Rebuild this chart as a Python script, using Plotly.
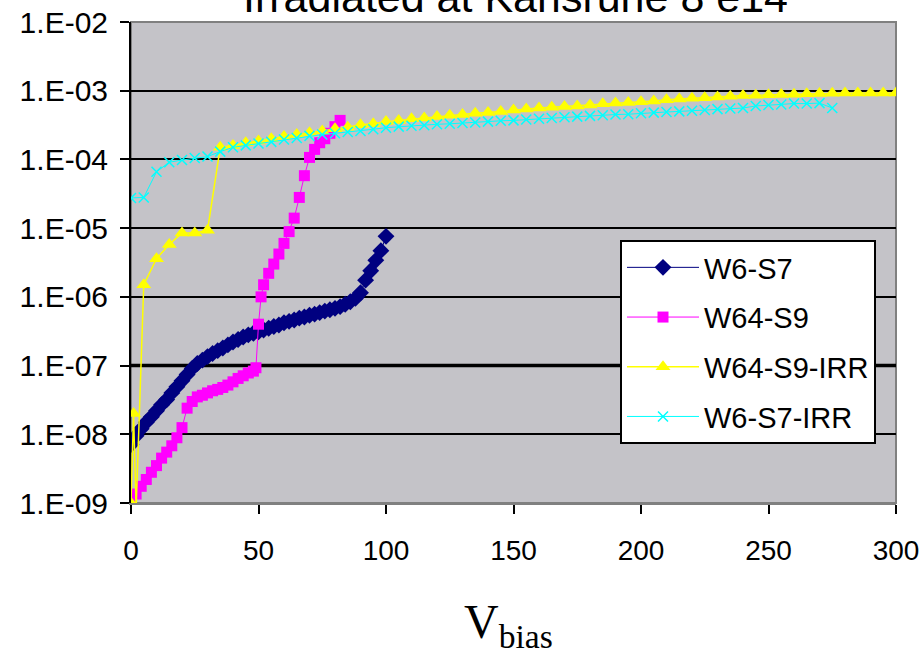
import plotly.graph_objects as go

# Bias voltage (V) and leakage current (A) for each sensor
v_w6_s7 = [0, 2, 4, 6, 8, 10, 12, 14, 16, 18, 20, 22, 24, 26, 28, 30, 32, 34, 36, 38,
           40, 42, 44, 46, 48, 50, 52, 54, 56, 58, 60, 62, 64, 66, 68, 70, 72, 74, 76, 78,
           80, 82, 84, 86, 88, 90, 92, 94, 96, 98, 100]
i_w6_s7 = [7.1e-9, 9.5e-9, 1.2e-8, 1.5e-8, 1.8e-8, 2.2e-8, 2.7e-8, 3.2e-8, 4.0e-8, 4.9e-8,
           6.0e-8, 7.4e-8, 9.1e-8, 1.07e-7, 1.2e-7, 1.35e-7, 1.5e-7, 1.65e-7, 1.8e-7, 2.0e-7,
           2.2e-7, 2.4e-7, 2.6e-7, 2.8e-7, 2.95e-7, 3.1e-7, 3.3e-7, 3.5e-7, 3.7e-7, 3.9e-7,
           4.2e-7, 4.4e-7, 4.6e-7, 4.9e-7, 5.1e-7, 5.4e-7, 5.6e-7, 5.9e-7, 6.2e-7, 6.5e-7,
           6.8e-7, 7.2e-7, 7.8e-7, 8.5e-7, 9.5e-7, 1.15e-6, 1.75e-6, 2.4e-6, 3.4e-6, 4.7e-6,
           7.6e-6]

v_w64_s9 = [0, 2, 4, 6, 8, 10, 12, 14, 16, 18, 20, 22, 24, 26, 28, 30, 32, 34, 36, 38,
            40, 42, 44, 46, 48, 49, 50, 51, 52, 54, 56, 58, 60, 62, 64, 66, 68, 70, 72, 74,
            76, 78, 80, 82]
i_w64_s9 = [1.1e-9, 1.35e-9, 1.75e-9, 2.2e-9, 2.8e-9, 3.5e-9, 4.5e-9, 5.5e-9, 6.8e-9, 8.9e-9,
            1.25e-8, 2.4e-8, 3.0e-8, 3.5e-8, 3.7e-8, 4.0e-8, 4.3e-8, 4.5e-8, 4.8e-8, 5.2e-8,
            5.8e-8, 6.5e-8, 7.1e-8, 7.8e-8, 8.3e-8, 9.3e-8, 4.0e-7, 1.0e-6, 1.5e-6, 2.2e-6,
            3.0e-6, 4.2e-6, 6.0e-6, 8.9e-6, 1.4e-5, 2.8e-5, 5.8e-5, 1.07e-4, 1.4e-4, 1.75e-4,
            2.0e-4, 2.4e-4, 3.0e-4, 3.7e-4]

v_w64_s9_irr = [0, 1, 2, 5, 10, 15, 20, 25, 30, 35, 40, 45, 50, 55, 60, 65, 70, 75, 80, 85,
                90, 95, 100, 105, 110, 115, 120, 125, 130, 135, 140, 145, 150, 155, 160, 165,
                170, 175, 180, 185, 190, 195, 200, 205, 210, 215, 220, 225, 230, 235, 240, 245,
                250, 255, 260, 265, 270, 275, 280, 285, 290, 295, 300]
i_w64_s9_irr = [1.0e-9, 2.0e-8, 8.0e-10, 1.5e-6, 3.6e-6, 5.8e-6, 8.5e-6, 8.5e-6, 9.3e-6, 1.5e-4,
                1.6e-4, 1.75e-4, 1.85e-4, 2.0e-4, 2.15e-4, 2.3e-4, 2.45e-4, 2.6e-4, 2.8e-4, 2.95e-4,
                3.2e-4, 3.3e-4, 3.55e-4, 3.7e-4, 3.9e-4, 4.0e-4, 4.2e-4, 4.4e-4, 4.5e-4, 4.7e-4,
                4.8e-4, 5.0e-4, 5.25e-4, 5.4e-4, 5.6e-4, 5.75e-4, 5.9e-4, 6.0e-4, 6.2e-4, 6.45e-4,
                6.6e-4, 6.75e-4, 6.9e-4, 7.1e-4, 7.4e-4, 7.6e-4, 7.8e-4, 7.9e-4, 8.1e-4, 8.3e-4,
                8.5e-4, 8.6e-4, 8.7e-4, 8.8e-4, 8.9e-4, 9.0e-4, 9.1e-4, 9.2e-4, 9.3e-4, 9.3e-4,
                9.3e-4, 9.3e-4, 9.3e-4]

v_w6_s7_irr = [0, 5, 10, 15, 20, 25, 30, 35, 40, 45, 50, 55, 60, 65, 70, 75, 80, 85, 90, 95,
               100, 105, 110, 115, 120, 125, 130, 135, 140, 145, 150, 155, 160, 165, 170, 175,
               180, 185, 190, 195, 200, 205, 210, 215, 220, 225, 230, 235, 240, 245, 250, 255,
               260, 265, 270, 275]
i_w6_s7_irr = [2.75e-5, 2.8e-5, 6.6e-5, 9.1e-5, 9.8e-5, 1.05e-4, 1.1e-4, 1.3e-4, 1.5e-4, 1.6e-4,
               1.7e-4, 1.8e-4, 1.95e-4, 2.05e-4, 2.2e-4, 2.3e-4, 2.4e-4, 2.5e-4, 2.6e-4, 2.75e-4,
               2.9e-4, 3.0e-4, 3.1e-4, 3.15e-4, 3.25e-4, 3.3e-4, 3.4e-4, 3.45e-4, 3.55e-4, 3.65e-4,
               3.7e-4, 3.8e-4, 3.9e-4, 4.0e-4, 4.1e-4, 4.2e-4, 4.3e-4, 4.4e-4, 4.5e-4, 4.55e-4,
               4.7e-4, 4.8e-4, 4.9e-4, 5.0e-4, 5.1e-4, 5.25e-4, 5.4e-4, 5.5e-4, 5.6e-4, 6.0e-4,
               6.2e-4, 6.3e-4, 6.5e-4, 6.5e-4, 6.6e-4, 5.6e-4]

x_ticks = [0, 50, 100, 150, 200, 250, 300]
y_ticks = [1e-9, 1e-8, 1e-7, 1e-6, 1e-5, 1e-4, 1e-3, 1e-2]
y_tick_text = ["1.E-09", "1.E-08", "1.E-07", "1.E-06", "1.E-05", "1.E-04", "1.E-03", "1.E-02"]

SANS = "Liberation Sans, Arial, sans-serif"
SERIF = "Liberation Serif, Times New Roman, serif"

fig = go.Figure()

series = [
    ("W6-S7", v_w6_s7, i_w6_s7, "#000080", "diamond", 13, 1),
    ("W64-S9", v_w64_s9, i_w64_s9, "#FF00FF", "square", 11, 1),
    ("W64-S9-IRR", v_w64_s9_irr, i_w64_s9_irr, "#FFFF00", "triangle-up", 13, 1.5),
    ("W6-S7-IRR", v_w6_s7_irr, i_w6_s7_irr, "#00FFFF", "x-thin", 10, 1),
]
for k, (name, v, cur, color, symbol, size, lw) in enumerate(series):
    marker = dict(symbol=symbol, size=size, color=color)
    if symbol == "x-thin":
        marker["line"] = dict(color=color, width=1.5)
    fig.add_trace(go.Scatter(
        x=v, y=cur, name=name, mode="lines+markers",
        line=dict(color=color, width=lw), marker=marker,
        legendgroup=f"g{k}",
    ))

# plot frame and the heavier 1E-07 grid line
fig.add_shape(type="rect", xref="paper", yref="paper", x0=0, x1=1, y0=0, y1=1,
              line=dict(color="#808080", width=2), layer="below")
fig.add_shape(type="line", xref="paper", yref="paper", x0=0, x1=1, y0=2 / 7, y1=2 / 7,
              line=dict(color="black", width=3.5), layer="below")

fig.add_annotation(text="Irradiated at Karlsruhe 8 e14", xref="paper", yref="paper",
                   x=0.502, y=1, xanchor="center", yanchor="bottom", yshift=-1,
                   showarrow=False, font=dict(family=SANS, size=43, color="black"))
fig.add_annotation(text="V<sub>bias</sub>", xref="paper", yref="paper",
                   x=0.493, y=-0.187, xanchor="center", yanchor="top",
                   showarrow=False, font=dict(family=SERIF, size=48, color="black"))

fig.update_layout(
    width=921, height=660,
    margin=dict(l=131, r=25, t=22, b=157, autoexpand=False),
    paper_bgcolor="white", plot_bgcolor="#C4C3C8",
    showlegend=True,
    legend=dict(x=(620 - 131) / 765, y=(503 - 240) / 481, xanchor="left", yanchor="top",
                bgcolor="white", bordercolor="black", borderwidth=2,
                font=dict(family=SANS, size=29, color="black"),
                itemwidth=72, tracegroupgap=9, traceorder="grouped"),
    xaxis=dict(range=[0, 300], tickvals=x_ticks, ticks="outside", ticklen=9, tickwidth=2,
               tickcolor="black", showline=True, linecolor="#808080", linewidth=2,
               showgrid=False, zeroline=False, ticklabelstandoff=12,
               ticklabeloverflow="allow", automargin=False,
               tickfont=dict(family=SANS, size=28, color="black")),
    yaxis=dict(type="log", range=[-9, -2], tickvals=y_ticks, ticktext=y_tick_text,
               ticks="outside", ticklen=9, tickwidth=2, tickcolor="black",
               showline=True, linecolor="black", linewidth=2,
               showgrid=True, gridcolor="black", gridwidth=1.5, zeroline=False,
               ticklabelstandoff=6, automargin=False,
               tickfont=dict(family=SANS, size=30, color="black")),
)

fig.write_html("out.html")
